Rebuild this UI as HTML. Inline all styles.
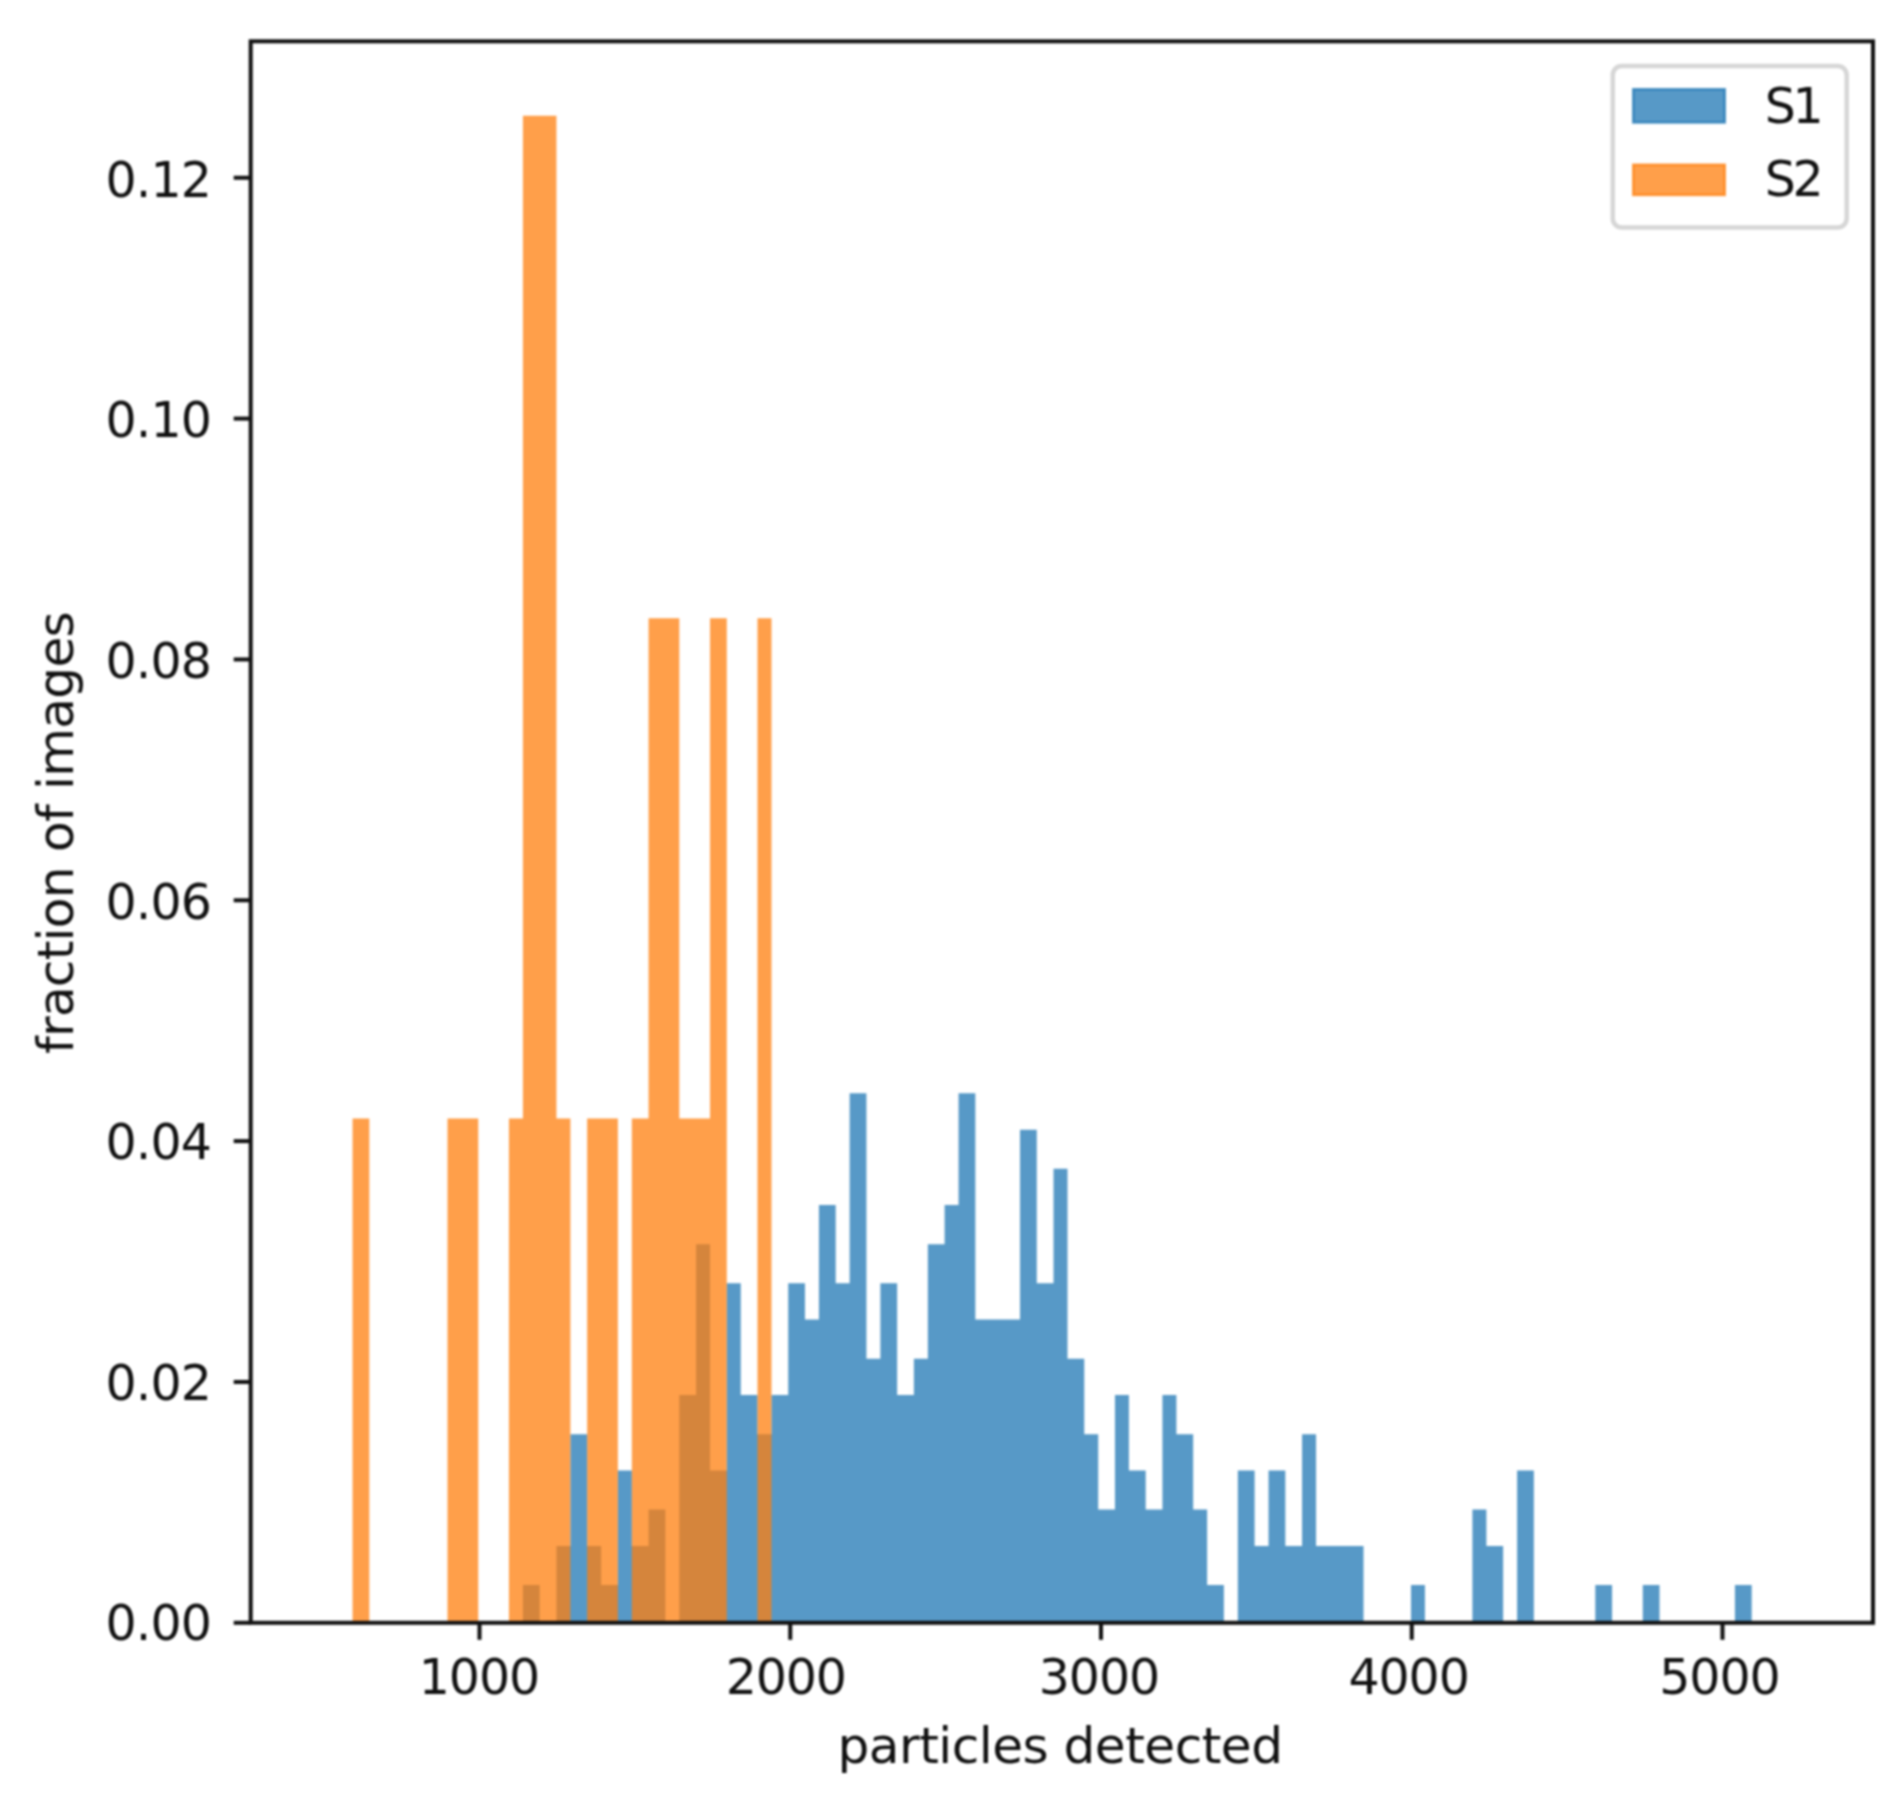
<!DOCTYPE html>
<html lang="en"><head><meta charset="utf-8"><title>particles detected histogram</title>
<style>
html,body{margin:0;padding:0;background:#fff;}
body{width:1899px;height:1799px;overflow:hidden;}
svg{display:block;filter:blur(0.8px);font-family:"DejaVu Sans","Liberation Sans",sans-serif;fill:#111;}
.s1 path{fill:#1f77b4;fill-opacity:.75;}
.s2 path{fill:#ff7f0e;fill-opacity:.75;}
.ax{stroke:#111;stroke-width:4.0;fill:none;}
.tk{font-size:49.0px;}
.lb{font-size:50.2px;}
</style></head><body>
<svg width="1899" height="1799" viewBox="0 0 1899 1799">
<rect x="0" y="0" width="1899" height="1799" fill="#fff"/>

<g class="s1"><path d="M522.93 1622.80V1585.00H539.68V1622.80Z"/><path d="M556.44 1622.80V1545.89H570.40V1434.15H587.16V1545.89H601.12V1585.00H617.88V1470.47H631.84V1545.89H648.59V1509.58H665.35V1622.80Z"/><path d="M679.31 1622.80V1395.04H696.07V1244.20H710.03V1470.47H726.79V1283.30H740.75V1395.04H757.51V1434.15H771.47V1395.04H788.23V1283.30H804.98V1319.62H818.95V1205.09H835.70V1283.30H849.66V1093.35H866.42V1358.73H880.38V1283.30H897.14V1395.04H913.90V1358.73H927.86V1244.20H944.61V1205.09H958.58V1093.35H975.33V1319.62H989.30V1319.62H1006.05V1319.62H1020.02V1129.66H1036.77V1283.30H1053.53V1168.77H1067.49V1358.73H1084.25V1434.15H1098.21V1509.58H1114.97V1395.04H1128.93V1470.47H1145.69V1509.58H1162.44V1395.04H1176.40V1434.15H1193.16V1509.58H1207.12V1585.00H1223.88V1622.80Z"/><path d="M1237.84 1622.80V1470.47H1254.60V1545.89H1268.56V1470.47H1285.32V1545.89H1302.07V1434.15H1316.04V1545.89H1332.79V1545.89H1346.76V1545.89H1363.51V1622.80Z"/><path d="M1410.99 1622.80V1585.00H1424.95V1622.80Z"/><path d="M1472.42 1622.80V1509.58H1486.39V1545.89H1503.14V1622.80Z"/><path d="M1517.11 1622.80V1470.47H1533.86V1622.80Z"/><path d="M1595.30 1622.80V1585.00H1612.06V1622.80Z"/><path d="M1642.78 1622.80V1585.00H1659.53V1622.80Z"/><path d="M1734.93 1622.80V1585.00H1751.69V1622.80Z"/></g>
<g class="s2"><path d="M352.57 1622.80V1118.60H369.33V1622.80Z"/><path d="M447.52 1622.80V1118.60H461.49V1118.60H478.24V1622.80Z"/><path d="M508.96 1622.80V1118.60H522.93V115.70H539.68V115.70H556.44V1118.60H570.40V1622.80Z"/><path d="M587.16 1622.80V1118.60H601.12V1118.60H617.88V1622.80Z"/><path d="M631.84 1622.80V1118.60H648.59V618.20H665.35V618.20H679.31V1118.60H696.07V1118.60H710.03V618.20H726.79V1622.80Z"/><path d="M757.51 1622.80V618.20H771.47V1622.80Z"/></g>
<g class="ax">
<line x1="479.50" y1="1622.8" x2="479.50" y2="1639.80"/>
<line x1="790.25" y1="1622.8" x2="790.25" y2="1639.80"/>
<line x1="1101.00" y1="1622.8" x2="1101.00" y2="1639.80"/>
<line x1="1411.75" y1="1622.8" x2="1411.75" y2="1639.80"/>
<line x1="1722.50" y1="1622.8" x2="1722.50" y2="1639.80"/>
<line x1="233.70" y1="1622.80" x2="250.7" y2="1622.80"/>
<line x1="233.70" y1="1381.96" x2="250.7" y2="1381.96"/>
<line x1="233.70" y1="1141.12" x2="250.7" y2="1141.12"/>
<line x1="233.70" y1="900.28" x2="250.7" y2="900.28"/>
<line x1="233.70" y1="659.44" x2="250.7" y2="659.44"/>
<line x1="233.70" y1="418.60" x2="250.7" y2="418.60"/>
<line x1="233.70" y1="177.76" x2="250.7" y2="177.76"/>
<rect x="250.7" y="41.3" width="1622.30" height="1581.50" stroke-linejoin="miter"/>
</g>
<g class="tk" text-anchor="middle">
<text x="479.50" y="1693.6" textLength="121.4" lengthAdjust="spacing">1000</text>
<text x="786.35" y="1693.6" textLength="121.4" lengthAdjust="spacing">2000</text>
<text x="1099.50" y="1693.6" textLength="121.4" lengthAdjust="spacing">3000</text>
<text x="1409.15" y="1693.6" textLength="121.4" lengthAdjust="spacing">4000</text>
<text x="1720.00" y="1693.6" textLength="121.4" lengthAdjust="spacing">5000</text>
</g><g class="tk" text-anchor="end">
<text x="212.0" y="1640.36" textLength="106.5" lengthAdjust="spacing">0.00</text>
<text x="212.0" y="1399.78" textLength="106.5" lengthAdjust="spacing">0.02</text>
<text x="212.0" y="1159.20" textLength="106.5" lengthAdjust="spacing">0.04</text>
<text x="212.0" y="918.62" textLength="106.5" lengthAdjust="spacing">0.06</text>
<text x="212.0" y="678.04" textLength="106.5" lengthAdjust="spacing">0.08</text>
<text x="212.0" y="437.46" textLength="106.5" lengthAdjust="spacing">0.10</text>
<text x="212.0" y="196.88" textLength="106.5" lengthAdjust="spacing">0.12</text>
</g>
<text class="lb" text-anchor="middle" x="1060.3" y="1763.2" textLength="445.5" lengthAdjust="spacing">particles detected</text>
<text class="lb" text-anchor="middle" transform="translate(73.0 832.6) rotate(-90)" textLength="442.6" lengthAdjust="spacing">fraction of images</text>
<rect x="1612.75" y="66" width="233.95" height="161.5" rx="9" ry="9" fill="#fff" fill-opacity=".8" stroke="#ccc" stroke-opacity=".8" stroke-width="4.5"/>
<rect x="1633.3" y="89.3" width="91.4" height="33.1" fill="#1f77b4" fill-opacity=".75" stroke="#1f77b4" stroke-opacity=".75" stroke-width="2.6"/>
<rect x="1633.3" y="164.8" width="91.4" height="30.1" fill="#ff7f0e" fill-opacity=".75" stroke="#ff7f0e" stroke-opacity=".75" stroke-width="2.6"/>
<g class="tk"><text x="1764.7" y="122.9" textLength="59.1" lengthAdjust="spacing">S1</text><text x="1764.7" y="196.3" textLength="59.1" lengthAdjust="spacing">S2</text></g>
</svg></body></html>
